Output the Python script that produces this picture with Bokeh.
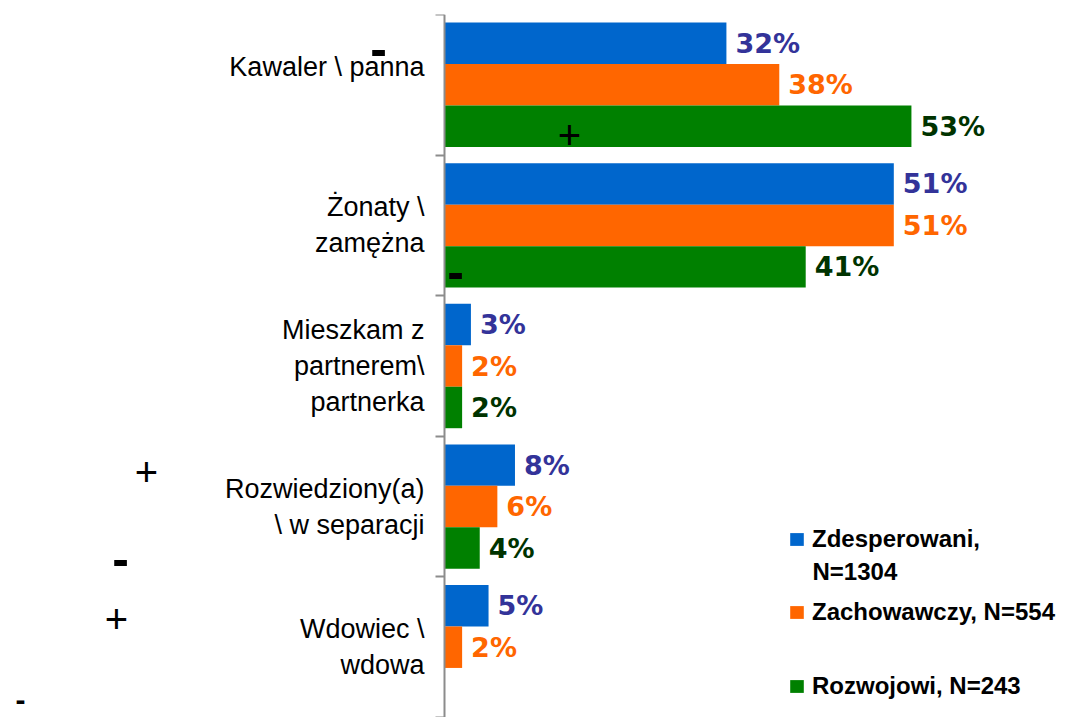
from bokeh.plotting import figure
from bokeh.models import (Range1d, LinearAxis, FixedTicker, Label,
                          Legend, LegendItem, ColumnDataSource)
from bokeh.core.properties import value
from bokeh.embed import file_html
from bokeh.resources import INLINE

# ---------------- data ----------------
categories = [
    "Kawaler \\ panna\n ",
    "Żonaty \\\nzamężna",
    "Mieszkam z\npartnerem\\\npartnerka",
    "Rozwiedziony(a)\n\\ w separacji",
    "Wdowiec \\\nwdowa",
]
series_names = ["Zdesperowani,", "Zachowawczy, N=554", "Rozwojowi, N=243"]
legend_extra_line = "N=1304"
zdesperowani = [32, 51, 3, 8, 5]
zachowawczy = [38, 51, 2, 6, 2]
rozwojowi = [53, 41, 2, 4, None]

# ---------------- styles / layout ----------------
bar_colors = ["#0066CC", "#FF6600", "#008000"]
label_colors = ["#333399", "#FF6600", "#003300"]
offsets = [0.295, 0.0, -0.295]
bar_height = 0.295
W, H = 1070, 717
axis_px = 444          # pixel position of the value axis
px_per_pct = 8.81

# sign annotations (screen units relative to plot frame): text, x, y, size
sign_marks = [
    ("-", 378, 669, "50px"),
    ("+", 569, 583, "40px"),
    ("-", 455, 446, "50px"),
    ("+", 146, 246, "40px"),
    ("-", 120, 159, "50px"),
    ("+", 116, 99, "40px"),
    ("-", 20, 18, "30px"),
]
legend_positions = [(788, 164), (788, 91), (788, 17)]
legend_extra_pos = (812, 146)

n = len(categories)
centers = [n - i - 0.5 for i in range(n)]   # top category first
boundaries = list(range(n + 1))

p = figure(width=W, height=H,
           x_range=Range1d(-axis_px / px_per_pct, (W - axis_px) / px_per_pct),
           y_range=Range1d(0, n),
           x_axis_location=None, y_axis_location=None,
           output_backend="svg", toolbar_location=None,
           min_border_left=0, min_border_right=0,
           min_border_top=14, min_border_bottom=0)
p.outline_line_color = None
p.xgrid.visible = False
p.ygrid.visible = False

cat_axis = LinearAxis(ticker=FixedTicker(ticks=centers, minor_ticks=boundaries),
                      fixed_location=0,
                      major_label_overrides={c: lab for c, lab in zip(centers, categories)},
                      axis_line_color="#8c8c8c", axis_line_width=2,
                      major_tick_line_color=None, major_tick_out=0, major_tick_in=0,
                      minor_tick_line_color="#8c8c8c", minor_tick_line_width=2,
                      minor_tick_out=9, minor_tick_in=0,
                      major_label_text_font="Liberation Sans",
                      major_label_text_font_size="27px",
                      major_label_text_color="black",
                      major_label_standoff=11)
p.add_layout(cat_axis, "left")

all_series = [zdesperowani, zachowawczy, rozwojowi]
renderers = []
for i, vals in enumerate(all_series):
    ys = [c + offsets[i] for c, v in zip(centers, vals) if v is not None]
    vs = [v for v in vals if v is not None]
    src = ColumnDataSource(dict(y=ys, val=vs, lbl=[f"{v}%" for v in vs]))
    r = p.hbar(y="y", left=0, right="val", height=bar_height,
               fill_color=bar_colors[i], line_color=None, source=src)
    renderers.append(r)
    p.text(x="val", y="y", text="lbl", source=src,
           x_offset=9, text_align="left", text_baseline="middle",
           text_font=value("DejaVu Sans"), text_font_style="bold",
           text_font_size="27px", text_color=label_colors[i])

for i, name in enumerate(series_names):
    leg = Legend(items=[LegendItem(label=name, renderers=[renderers[i]])],
                 location=legend_positions[i],
                 label_text_font="Liberation Sans", label_text_font_style="bold",
                 label_text_font_size="24px", label_text_color="black",
                 glyph_width=17, glyph_height=16, label_standoff=7,
                 padding=0, margin=0, spacing=0,
                 border_line_color=None, background_fill_alpha=0)
    p.add_layout(leg)

p.add_layout(Label(x=legend_extra_pos[0], y=legend_extra_pos[1],
                   x_units="screen", y_units="screen", text=legend_extra_line,
                   text_font="Liberation Sans", text_font_style="bold",
                   text_font_size="24px", text_color="black",
                   text_align="left", text_baseline="middle"))

for t, lx, ly, size in sign_marks:
    p.add_layout(Label(x=lx, y=ly, x_units="screen", y_units="screen", text=t,
                       text_font="Liberation Sans", text_font_size=size,
                       text_font_style="bold" if t == "-" else "normal",
                       text_align="center", text_baseline="middle",
                       text_color="black"))

open("out.html", "w").write(file_html(p, INLINE))
